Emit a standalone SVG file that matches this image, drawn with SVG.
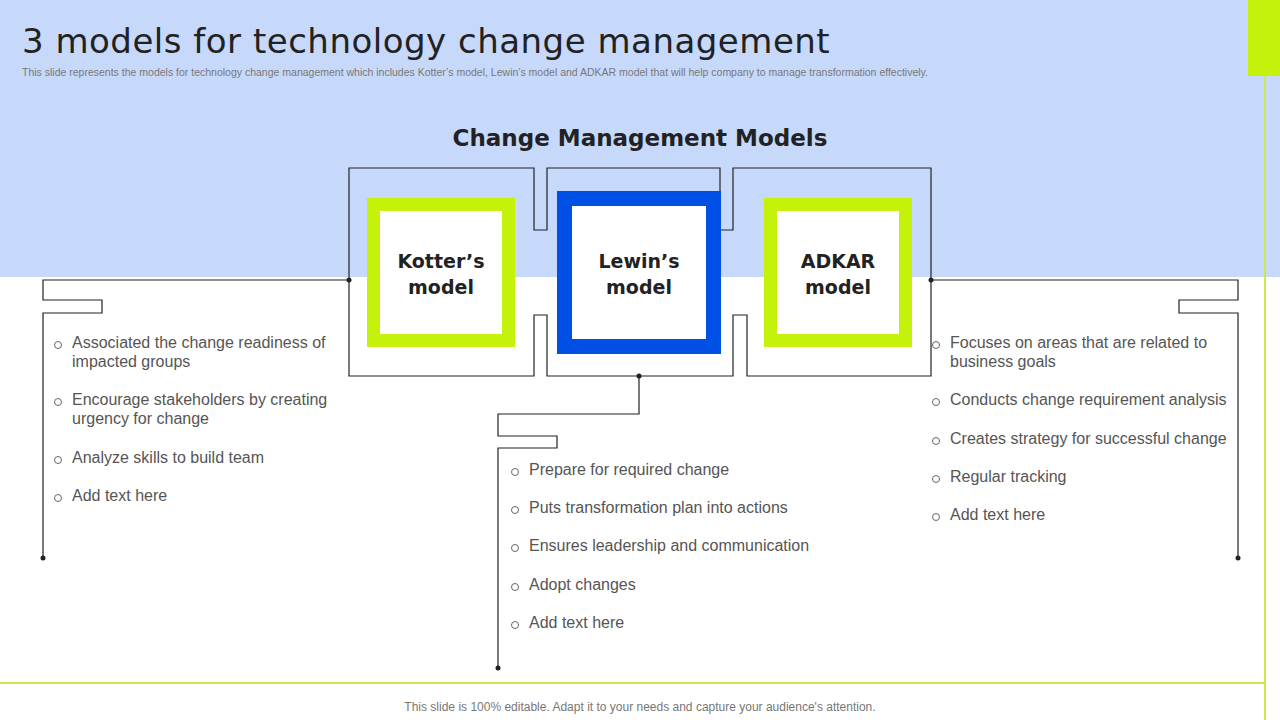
<svg xmlns="http://www.w3.org/2000/svg" width="1280" height="720" viewBox="0 0 1280 720">
<style>
.t{font-family:"Liberation Sans",Arial,sans-serif;font-size:16px;fill:#555}
.h{font-family:"DejaVu Sans",sans-serif;font-weight:bold;fill:#222;text-anchor:middle}
.ln{fill:none;stroke:#222;stroke-width:1.2}
.b{fill:none;stroke:#666;stroke-width:1}
</style>
<rect width="1280" height="720" fill="#fff"/>
<rect width="1280" height="277" fill="#c7d9fb"/>
<rect x="1248" y="0" width="32" height="76" fill="#c5f20a"/>
<line x1="1265" y1="76" x2="1265" y2="720" stroke="#cde84a" stroke-width="2"/>
<line x1="0" y1="683" x2="1265" y2="683" stroke="#cde84a" stroke-width="2"/>
<text x="22" y="53" font-family="DejaVu Sans,sans-serif" font-size="34" fill="#222" letter-spacing="0.5">3 models for technology change management</text>
<text x="22" y="76" font-family="Liberation Sans,Arial,sans-serif" font-size="10.5" fill="#777">This slide represents the models for technology change management which includes Kotter’s model, Lewin’s model and ADKAR model that will help company to manage transformation effectively.</text>
<text x="640" y="146" class="h" font-size="23">Change Management Models</text>
<g id="connectors">
<path class="ln" d="M349,376 V168 H534 V230 H547 V168 H720 V230 H733 V168 H931 V376 H747 V315 H733 V376 H547 V315 H534 V376 Z"/>
<path class="ln" d="M349,280 H43 V300 H102 V313 H43 V558"/>
<path class="ln" d="M931,280 H1238 V300 H1179 V313 H1238 V558"/>
<path class="ln" d="M639,376 V414 H498 V436 H557 V448 H498 V668"/>
<g fill="#222"><circle cx="349" cy="280" r="2.5"/><circle cx="931" cy="280" r="2.5"/><circle cx="639" cy="376" r="2.5"/><circle cx="43" cy="558" r="2.5"/><circle cx="1238" cy="558" r="2.5"/><circle cx="498" cy="668" r="2.5"/></g>
</g>
<g id="kotter"><rect x="373.5" y="204.5" width="135" height="136" fill="#fff" stroke="#c5f20a" stroke-width="13"/><text x="441" y="268" class="h" font-size="19">Kotter’s</text><text x="441" y="294" class="h" font-size="19">model</text></g>
<g id="lewin"><rect x="564.5" y="198.5" width="149" height="148" fill="#fff" stroke="#0050e6" stroke-width="15"/><text x="639" y="268" class="h" font-size="19">Lewin’s</text><text x="639" y="294" class="h" font-size="19">model</text></g>
<g id="adkar"><rect x="770.5" y="204.5" width="135" height="136" fill="#fff" stroke="#c5f20a" stroke-width="13"/><text x="838" y="268" class="h" font-size="19">ADKAR</text><text x="838" y="294" class="h" font-size="19">model</text></g>
<g id="left-list">
<circle class="b" cx="58" cy="345" r="3.5"/><text x="72" y="348" class="t">Associated the change readiness of</text><text x="72" y="367" class="t">impacted groups</text>
<circle class="b" cx="58" cy="402" r="3.5"/><text x="72" y="405" class="t">Encourage stakeholders by creating</text><text x="72" y="424" class="t">urgency for change</text>
<circle class="b" cx="58" cy="460" r="3.5"/><text x="72" y="463" class="t">Analyze skills to build team</text>
<circle class="b" cx="58" cy="498" r="3.5"/><text x="72" y="501" class="t">Add text here</text>
</g>
<g id="mid-list">
<circle class="b" cx="515" cy="472" r="3.5"/><text x="529" y="475" class="t">Prepare for required change</text>
<circle class="b" cx="515" cy="510" r="3.5"/><text x="529" y="513" class="t">Puts transformation  plan into actions</text>
<circle class="b" cx="515" cy="548" r="3.5"/><text x="529" y="551" class="t">Ensures leadership and communication</text>
<circle class="b" cx="515" cy="587" r="3.5"/><text x="529" y="590" class="t">Adopt changes</text>
<circle class="b" cx="515" cy="625" r="3.5"/><text x="529" y="628" class="t">Add text here</text>
</g>
<g id="right-list">
<circle class="b" cx="936" cy="345" r="3.5"/><text x="950" y="348" class="t">Focuses on areas that are related to</text><text x="950" y="367" class="t">business goals</text>
<circle class="b" cx="936" cy="402" r="3.5"/><text x="950" y="405" class="t">Conducts change requirement analysis</text>
<circle class="b" cx="936" cy="441" r="3.5"/><text x="950" y="444" class="t">Creates strategy for successful change</text>
<circle class="b" cx="936" cy="479" r="3.5"/><text x="950" y="482" class="t">Regular tracking</text>
<circle class="b" cx="936" cy="517" r="3.5"/><text x="950" y="520" class="t">Add text here</text>
</g>
<text x="640" y="711" text-anchor="middle" font-family="Liberation Sans,Arial,sans-serif" font-size="12" fill="#777">This slide is 100% editable. Adapt it to your needs and capture your audience's attention.</text>
</svg>
